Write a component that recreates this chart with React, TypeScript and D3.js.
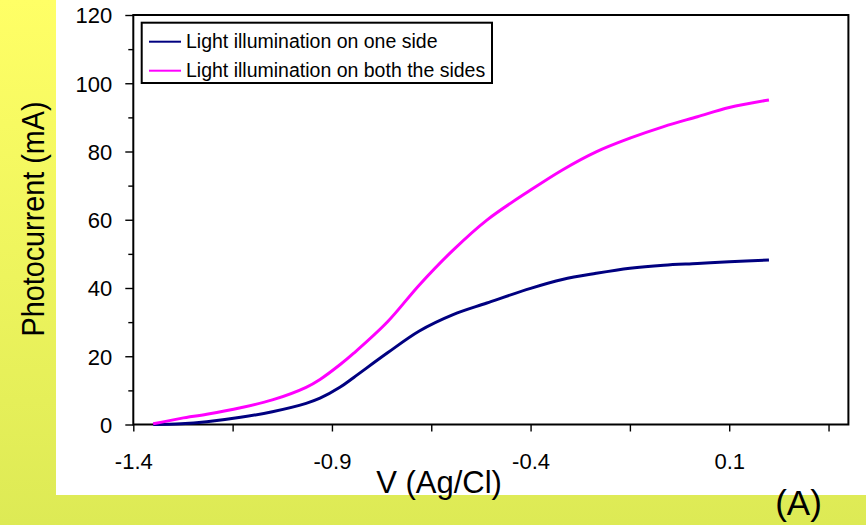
import React, { useEffect, useRef } from "react";
import * as d3 from "d3";

// Potential vs Ag/Cl reference (V)
const voltage = [
  -1.35, -1.28, -1.215, -1.13, -1.05, -0.965, -0.93, -0.88, -0.845, -0.76, -0.68,
  -0.595, -0.51, -0.4, -0.32, -0.235, -0.15, -0.065, 0.02, 0.1, 0.2,
];
// Photocurrent (mA), illumination on one side
const oneSide = [
  0.0, 0.2, 0.8, 2.1, 3.75, 6.2, 7.7, 10.9, 13.8, 21.0, 27.4,
  32.2, 35.6, 39.9, 42.5, 44.3, 45.8, 46.7, 47.2, 47.7, 48.2,
];
// Photocurrent (mA), illumination on both sides
const bothSides = [
  0.2, 1.8, 3.0, 4.9, 7.2, 10.9, 13.2, 17.5, 20.9, 30.1, 40.9,
  51.1, 59.9, 68.7, 74.6, 79.9, 83.9, 87.3, 90.2, 92.9, 95.1,
];

const xMajorTicks = [-1.4, -0.9, -0.4, 0.1];
const xAllTicks = [-1.4, -1.15, -0.9, -0.65, -0.4, -0.15, 0.1, 0.35];
const yMajorTicks = [0, 20, 40, 60, 80, 100, 120];
const yMinorTicks = [10, 30, 50, 70, 90, 110];

const seriesNames = ["Light illumination on one side", "Light illumination on both the sides"];
const seriesColors = ["#000080", "#FF00FF"];

const W = 866;
const H = 525;
const FONT = "'Liberation Sans', Arial, sans-serif";

// plain hyphen for negative numbers
const fmtX = (v: number) => v.toFixed(1).replace("\u2212", "-");

export default function App() {
  const axRef = useRef<SVGGElement>(null);

  const x = d3.scaleLinear().domain([-1.4, 0.4]).range([133.3, 848.4]);
  const y = d3.scaleLinear().domain([0, 120]).range([424.5, 15]);

  const line = d3
    .line<number>()
    .x((_, i) => x(voltage[i]))
    .y((d) => y(d))
    .curve(d3.curveCatmullRom.alpha(0.5));

  useEffect(() => {
    const g = d3.select(axRef.current);
    g.selectAll("*").remove();

    // y axis, major and minor ticks
    const yAx = g.append("g").attr("transform", `translate(${x.range()[0]},0)`);
    yAx.call(
      d3.axisLeft(y).tickValues(yMajorTicks).tickSize(8).tickSizeOuter(0).tickPadding(13).tickFormat((d) => String(d))
    );
    const yMin = g.append("g").attr("transform", `translate(${x.range()[0]},0)`);
    yMin.call(d3.axisLeft(y).tickValues(yMinorTicks).tickSize(5).tickSizeOuter(0).tickFormat(() => ""));

    // x axis: every tick drawn, every other one labelled
    const xAx = g.append("g").attr("transform", `translate(0,${y(0)})`);
    xAx.call(
      d3
        .axisBottom(x)
        .tickValues(xAllTicks)
        .tickSize(7)
        .tickSizeOuter(0)
        .tickPadding(22)
        .tickFormat((d) => (xMajorTicks.some((t) => Math.abs(t - +d) < 1e-9) ? fmtX(+d) : ""))
    );

    [yAx, yMin, xAx].forEach((a) => {
      a.select(".domain").remove();
      a.selectAll(".tick line").attr("stroke", "#000").attr("stroke-width", 1.4);
      a.selectAll(".tick text").attr("fill", "#000").attr("font-size", 22).attr("font-family", FONT);
    });
    yAx.selectAll(".tick text").attr("dy", "0.36em");
  }, []);

  return (
    <svg
      width={W}
      height={H}
      style={{ position: "absolute", left: 0, top: 0, display: "block" }}
      fontFamily={FONT}
    >
      <defs>
        <linearGradient id="bg" x1="0" y1="0" x2="0" y2="1">
          <stop offset="0" stopColor="#FFFF66" />
          <stop offset="1" stopColor="#DDEA55" />
        </linearGradient>
      </defs>
      <rect x={0} y={0} width={W} height={H} fill="url(#bg)" />
      <rect x={56} y={0} width={W - 56} height={495} fill="#fff" />

      <g ref={axRef} />

      {/* plot frame */}
      <path
        d={`M${x.range()[0]},${y(0)}V${y(120)}H${x.range()[1]}V${y(0)}Z`}
        fill="none"
        stroke="#000"
        strokeWidth={2}
      />

      <path d={line(oneSide) ?? ""} fill="none" stroke={seriesColors[0]} strokeWidth={3} />
      <path d={line(bothSides) ?? ""} fill="none" stroke={seriesColors[1]} strokeWidth={3} />

      {/* legend */}
      <rect x={141.7} y={22.7} width={350.3} height={60.3} fill="#fff" stroke="#000" strokeWidth={2} />
      {seriesNames.map((name, i) => (
        <g key={name}>
          <line x1={149} x2={181} y1={41.7 + i * 29} y2={41.7 + i * 29} stroke={seriesColors[i]} strokeWidth={2} />
          <text x={186} y={47.8 + i * 29} fontSize={19.5} fill="#000">
            {name}
          </text>
        </g>
      ))}

      {/* axis titles */}
      <text
        transform="translate(43.5,219) rotate(-90)"
        textAnchor="middle"
        fontSize={31}
        textLength={235}
        lengthAdjust="spacingAndGlyphs"
        fill="#000"
      >
        Photocurrent (mA)
      </text>
      <text x={439} y={493} textAnchor="middle" fontSize={31} fill="#000">
        V (Ag/Cl)
      </text>
      <text x={798.5} y={515} textAnchor="middle" fontSize={35} fill="#000">
        (A)
      </text>
    </svg>
  );
}
